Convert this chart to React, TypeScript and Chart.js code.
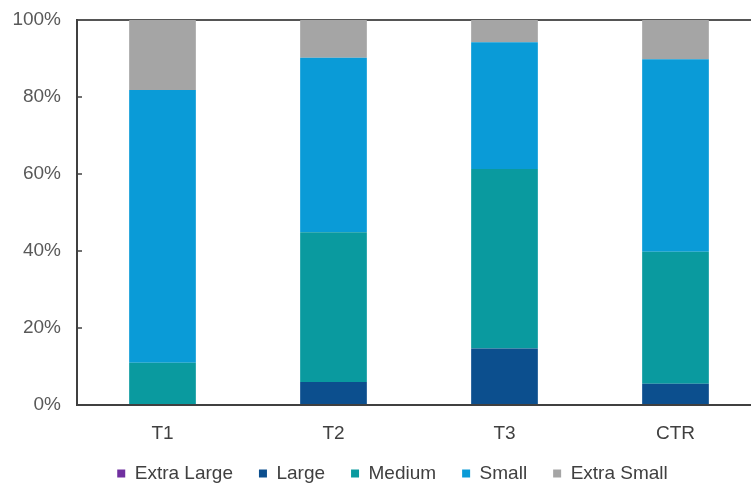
import React, { useEffect, useRef } from "react";
import { Chart, registerables } from "chart.js";

Chart.register(...registerables);

const categories = ["T1", "T2", "T3", "CTR"];
const extraLarge = [0, 0, 0, 0];
const large = [0, 6.0, 14.7, 5.5];
const medium = [11.0, 38.9, 46.6, 34.3];
const small = [70.8, 45.3, 32.9, 50.0];
const extraSmall = [18.2, 9.8, 5.8, 10.2];
const yTicks = [0, 20, 40, 60, 80, 100];

const FONT = "'Liberation Sans', Arial, sans-serif";

const innerTicks = {
  id: "innerTicks",
  afterDraw(chart: any) {
    const y = chart.scales.y;
    const ctx = chart.ctx;
    ctx.save();
    ctx.strokeStyle = "#404040";
    ctx.lineWidth = 1.5;
    yTicks.forEach((v) => {
      if (v === 0 || v === 100) return;
      const py = y.getPixelForValue(v);
      ctx.beginPath();
      ctx.moveTo(y.right, py);
      ctx.lineTo(y.right + 5, py);
      ctx.stroke();
    });
    ctx.restore();
  },
};

const legendShift = {
  id: "legendShift",
  afterLayout(chart: any) {
    const l = chart.legend;
    if (!l) return;
    const dx = 12;
    const dy = -9;
    l.left += dx;
    l.right += dx;
    l.top += dy;
    l.bottom += dy;
  },
};

export default function App() {
  const ref = useRef<HTMLCanvasElement>(null);
  useEffect(() => {
    if (!ref.current) return;
    const chart = new Chart(ref.current, {
      type: "bar",
      data: {
        labels: categories,
        datasets: [
          { label: "Extra Large", data: extraLarge, backgroundColor: "#7030a0" },
          { label: "Large", data: large, backgroundColor: "#0c4f8e" },
          { label: "Medium", data: medium, backgroundColor: "#0a9a9f" },
          { label: "Small", data: small, backgroundColor: "#0a9bd7" },
          { label: "Extra Small", data: extraSmall, backgroundColor: "#a5a5a5" },
        ],
      },
      options: {
        animation: false,
        responsive: true,
        maintainAspectRatio: false,
        datasets: { bar: { barPercentage: 0.78, categoryPercentage: 0.5 } },
        layout: { padding: { top: 20, left: 0, right: 0, bottom: 0 } },
        plugins: {
          tooltip: { enabled: false },
          legend: {
            position: "bottom",
            labels: {
              boxWidth: 8,
              boxHeight: 8,
              padding: 26,
              color: "#404040",
              font: { family: FONT, size: 19 },
            },
          },
        },
        scales: {
          x: {
            stacked: true,
            grid: { display: false },
            border: { display: true, color: "#404040", width: 2 },
            ticks: { color: "#404040", font: { family: FONT, size: 19 }, padding: 9 },
            afterFit: (s: any) => {
              s.height = 42;
            },
          },
          y: {
            stacked: true,
            min: 0,
            max: 100,
            grid: {
              drawTicks: false,
              color: (c: any) => (c.tick && c.tick.value === 100 ? "#555555" : "rgba(0,0,0,0)"),
              lineWidth: 2,
            },
            border: { display: true, color: "#404040", width: 2 },
            ticks: {
              stepSize: 20,
              color: "#595959",
              font: { family: FONT, size: 19 },
              padding: 16,
              callback: (v: any) => v + "%",
            },
            afterFit: (s: any) => {
              s.width = 77;
              s.paddingTop = 0;
              s.paddingBottom = 0;
            },
          },
        },
      },
      plugins: [innerTicks, legendShift],
    });
    return () => chart.destroy();
  }, []);
  return (
    <div style={{ position: "fixed", left: 0, top: 0, width: 751, height: 483, overflow: "hidden" }}>
      <div style={{ position: "relative", width: 761, height: 502 }}>
        <canvas ref={ref} />
      </div>
    </div>
  );
}
